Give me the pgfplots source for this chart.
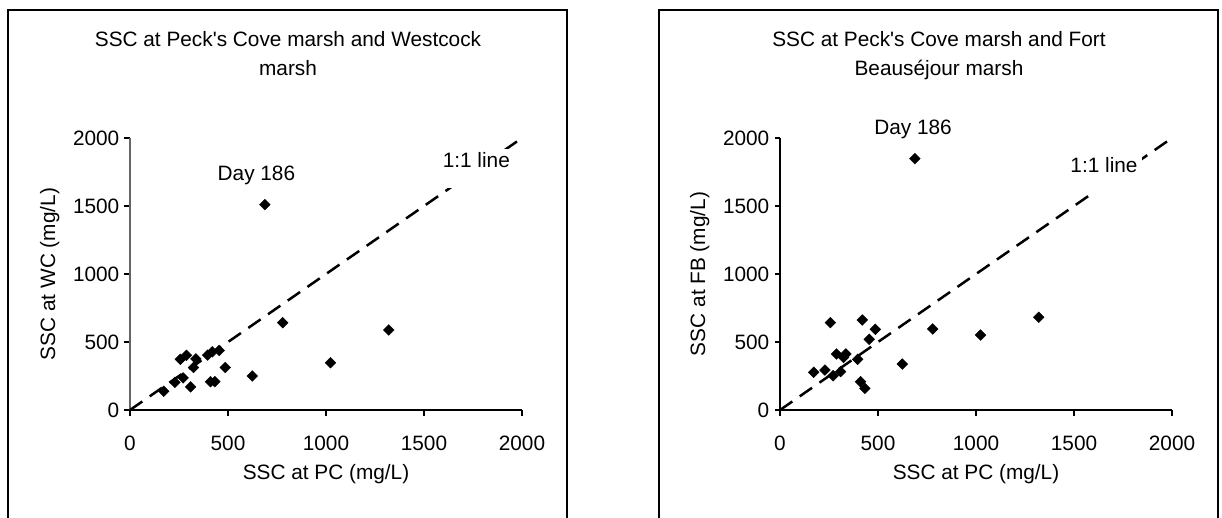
\documentclass[border=0pt]{standalone}
\usepackage{fontspec}
\setmainfont{Liberation Sans}[Ligatures=TeXOff]
\usepackage{pgfplots}
\usepackage{pgfplotstable}
\pgfplotsset{compat=1.18}

% SSC (mg/L) at Peck's Cove (pc), Westcock (wc) and Fort Beausejour (fb)
\pgfplotstableread{
pc    wc    fb
172   138   277
229   203   294
257   373   642
271   236   252
288   402   412
309   170   282
324   312   387
336   376   412
396   404   373
411   208   208
420   428   662
433   208   159
455   438   520
486   312   593
624   250   338
779   642   596
1023  348   551
1320  588   682
688   1510  1848
}\ssc

\newcommand\txtfont{\fontsize{20.8}{25}\selectfont}

\pgfplotsset{
  sscaxis/.style={
    scale only axis, width=392pt, height=272pt,
    xmin=0, xmax=2000, ymin=0, ymax=2000,
    axis x line=bottom, axis y line=left,
    axis line style={-, line width=1.2pt},
    xtick={0,500,...,2000}, ytick={0,500,...,2000},
    tick align=outside, major tick length=5.5pt,
    tick style={line width=1.2pt, black},
    /pgf/number format/assume math mode=true,
    /pgf/number format/1000 sep={},
    ticklabel style={font=\txtfont, inner sep=0pt},
    xticklabel style={yshift=-20pt},
    yticklabel style={xshift=-5pt},
    label style={font=\txtfont},
    xlabel style={at={(axis description cs:0.5,-0.235)}, anchor=center},
    ylabel style={at={(axis description cs:-0.205,0.5)}, anchor=center},
    clip=false,
    xlabel={SSC at PC (mg/L)},
  },
  pts/.style={only marks, mark=square*, mark size=3.8pt,
    mark options={rotate=45, fill=black, draw=black}},
  oneone/.style={black, line width=2.5pt, dash pattern=on 15pt off 9pt},
}
\tikzset{
  lbl/.style={font=\txtfont, anchor=base, fill=white,
    inner xsep=4pt, inner ysep=3pt, text depth=17pt},
  note/.style={font=\txtfont, anchor=base, inner sep=0pt},
}

\begin{document}
\begin{tikzpicture}
\clip (0pt,0pt) rectangle (1222pt,-517pt);
% chart frames
\draw[line width=1.3pt] (8pt,-560pt) -- (8pt,-10pt) -- (567pt,-10pt) -- (567pt,-560pt);
\draw[line width=1.3pt] (659pt,-560pt) -- (659pt,-10pt) -- (1218pt,-10pt) -- (1218pt,-560pt);
% titles
\begin{scope}[every node/.style={font=\txtfont, anchor=base, inner sep=0pt}]
\node at (288pt,-46.7pt) {SSC at Peck's Cove marsh and Westcock};
\node at (288pt,-75pt) {marsh};
\node at (939pt,-46.7pt) {SSC at Peck's Cove marsh and Fort};
\node at (939pt,-75pt) {Beauséjour marsh};
\end{scope}

\begin{axis}[sscaxis, at={(130pt,-410pt)}, anchor=south west,
  ylabel={SSC at WC (mg/L)},
  y axis line style={black!60}]
\addplot[oneone] coordinates {(0,0) (2000,2000)};
\node[lbl] at (axis cs:1767,1783) {1:1 line};
\node[note] at (axis cs:645,1684) {Day 186};
\addplot[pts] table[x=pc, y=wc] {\ssc};
\end{axis}

\begin{axis}[sscaxis, at={(780pt,-410pt)}, anchor=south west,
  ylabel={SSC at FB (mg/L)}]
\addplot[oneone] coordinates {(0,0) (2000,2000)};
\node[lbl] at (axis cs:1653,1750) {1:1 line};
\node[note] at (axis cs:679,2029) {Day 186};
\addplot[pts] table[x=pc, y=fb] {\ssc};
\end{axis}
\end{tikzpicture}
\end{document}
